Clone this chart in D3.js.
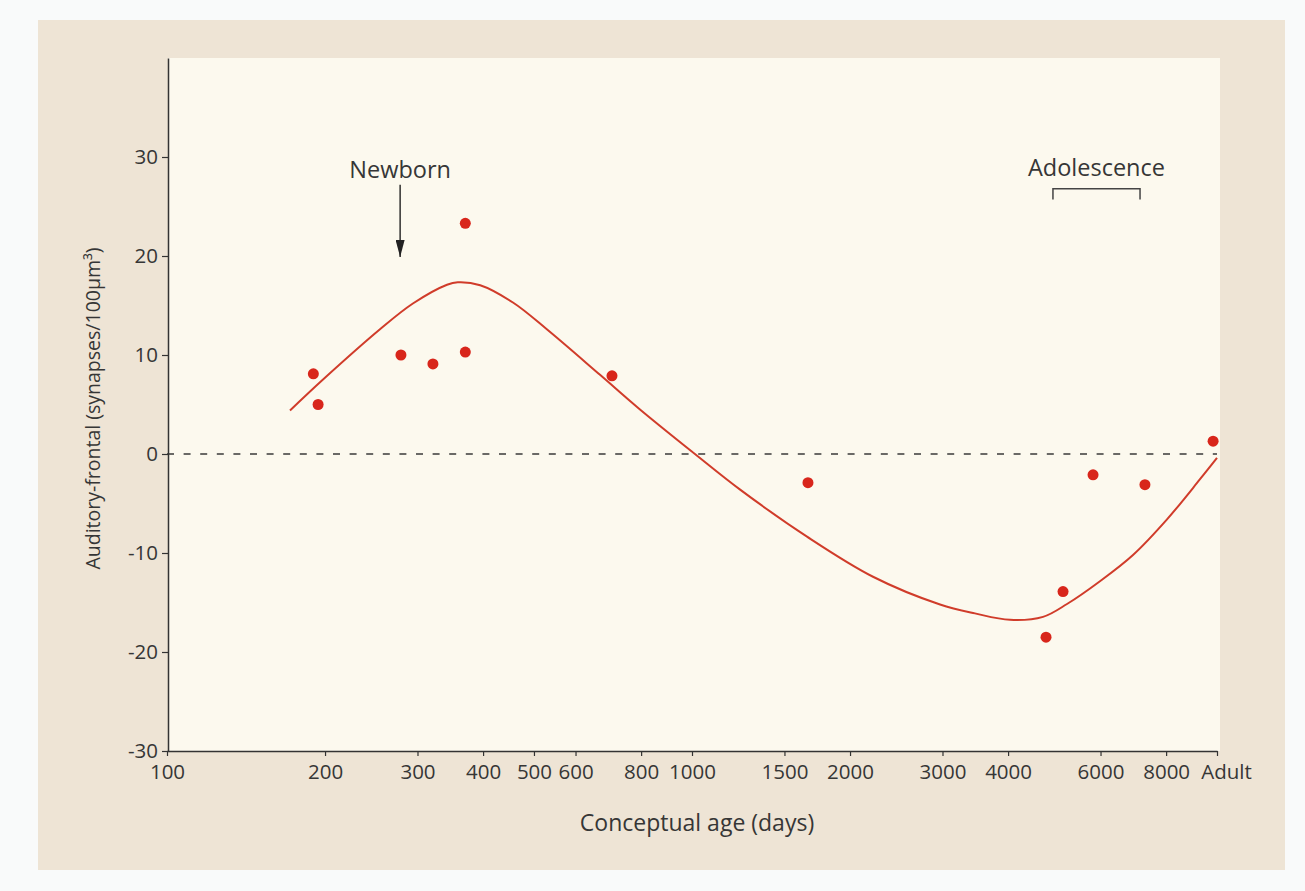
<!DOCTYPE html>
<html>
<head>
<meta charset="utf-8">
<script src="https://cdn.jsdelivr.net/npm/d3@7/dist/d3.min.js"></script>
<style>
  html, body { margin: 0; padding: 0; background: #f9fafa; }
  svg { display: block; }
  text { font-family: "Open Sans", "Noto Sans", sans-serif; fill: #363636; }
</style>
</head>
<body>
<svg id="chart" width="1305" height="891"></svg>
<script>
// ---- Data ----
const ageDays     = [190, 194, 279, 321, 370, 370, 704, 1663, 4724, 5090, 5806, 7290, 9830];
const synapseDiff = [8.1, 5.0, 10.0, 9.1, 23.3, 10.3, 7.9, -2.9, -18.5, -13.9, -2.1, -3.1, 1.3];

const fitAge   = [171.5, 198, 254.5, 294, 341.5, 358, 395, 456, 529, 668, 796, 1013, 1235, 1656, 2212, 2968, 3459, 4034, 4662, 5180, 5985, 6918, 8031, 9282, 10000];
const fitValue = [4.4, 7.5, 12.6, 15.2, 17.1, 17.35, 17.05, 15.3, 12.6, 8.0, 4.5, 0, -3.6, -8.35, -12.4, -15.2, -16.1, -16.75, -16.45, -15.15, -12.85, -10.2, -6.6, -2.55, -0.4];

const xTickValues = [100, 200, 300, 400, 500, 600, 800, 1000, 1500, 2000, 3000, 4000, 6000, 8000, 10000];
const xTickLabels = ["100", "200", "300", "400", "500", "600", "800", "1000", "1500", "2000", "3000", "4000", "6000", "8000", "Adult"];
const yTickValues = [-30, -20, -10, 0, 10, 20, 30];

const xDomain = [100, 10000];
const yDomain = [-30, 40];

const newbornAge = 278;
const newbornArrow = [27.2, 19.9];
const adolescenceRange = [4870, 7135];
const adolescenceTop = 26.8, adolescenceFoot = 25.7;
const labelLevel = 27.9;

// ---- Layout ----
const svg = d3.select("#chart");
const W = 1305, H = 891;
const plot = { left: 167, right: 1217, top: 58, bottom: 751 };
const FONT = '"Open Sans", "Noto Sans", sans-serif';

svg.append("rect").attr("x", 0).attr("y", 0).attr("width", W).attr("height", H).attr("fill", "#f9fafa");
svg.append("rect").attr("x", 38).attr("y", 20).attr("width", 1247).attr("height", 850).attr("fill", "#eee4d5");

const x = d3.scaleLog().domain(xDomain).range([plot.left, plot.right]);
const y = d3.scaleLinear().domain(yDomain).range([plot.bottom, plot.top]);

svg.append("rect")
  .attr("x", x(xDomain[0]) + 1).attr("y", y(yDomain[1]))
  .attr("width", x(xDomain[1]) - x(xDomain[0]) + 2)
  .attr("height", y(yDomain[0]) - y(yDomain[1]))
  .attr("fill", "#fcf9ee");

// zero reference line
svg.append("line")
  .attr("x1", x(xDomain[0])).attr("x2", x(xDomain[1]))
  .attr("y1", y(0)).attr("y2", y(0))
  .attr("stroke", "#3a3a3a").attr("stroke-width", 1.6)
  .attr("stroke-dasharray", "7,9.6");

// axes
const xAxis = d3.axisBottom(x)
  .tickValues(xTickValues)
  .tickFormat((d, i) => xTickLabels[i])
  .tickSizeInner(5).tickSizeOuter(0).tickPadding(8);
const gx = svg.append("g").attr("transform", `translate(0,${plot.bottom})`).call(xAxis);

const yAxis = d3.axisLeft(y)
  .tickValues(yTickValues)
  .tickFormat(d => String(d))
  .tickSizeInner(6).tickSizeOuter(0).tickPadding(4);
const gy = svg.append("g").attr("transform", `translate(${plot.left + 1},0)`).call(yAxis);

[gx, gy].forEach(g => {
  g.select(".domain").attr("stroke", "#333").attr("stroke-width", 1.5);
  g.selectAll(".tick line").attr("stroke", "#333").attr("stroke-width", 1.2);
  g.selectAll(".tick text").attr("font-size", 20.5).attr("fill", "#363636")
    .attr("font-family", FONT);
});
gx.selectAll(".tick text").filter((d) => d === 10000).attr("dx", 9);

// axis titles
svg.append("text")
  .attr("x", (plot.left + plot.right) / 2 + 5).attr("y", 831)
  .attr("text-anchor", "middle").attr("font-size", 23)
  .text("Conceptual age (days)");

svg.append("text")
  .attr("transform", `translate(100,${(plot.top + plot.bottom) / 2 + 4}) rotate(-90)`)
  .attr("text-anchor", "middle").attr("font-size", 19.5)
  .text("Auditory-frontal (synapses/100µm³)");

// fitted curve
const line = d3.line()
  .x((d, i) => x(fitAge[i]))
  .y((d, i) => y(fitValue[i]))
  .curve(d3.curveCatmullRom.alpha(0.5));
svg.append("path")
  .datum(fitAge)
  .attr("d", line)
  .attr("fill", "none")
  .attr("stroke", "#d03c2a")
  .attr("stroke-width", 2);

// data points
svg.append("g").selectAll("circle")
  .data(ageDays)
  .join("circle")
  .attr("cx", d => x(d))
  .attr("cy", (d, i) => y(synapseDiff[i]))
  .attr("r", 5.5)
  .attr("fill", "#d8261b");

// Newborn annotation
svg.append("defs").append("marker")
  .attr("id", "arrow").attr("viewBox", "0 0 17 9")
  .attr("refX", 17).attr("refY", 4.5)
  .attr("markerWidth", 17).attr("markerHeight", 9)
  .attr("markerUnits", "userSpaceOnUse")
  .attr("orient", "auto")
  .append("path").attr("d", "M0,0 L17,4.5 L0,9 Z").attr("fill", "#222");

svg.append("text")
  .attr("x", x(newbornAge)).attr("y", y(labelLevel))
  .attr("text-anchor", "middle").attr("font-size", 23.5)
  .text("Newborn");
svg.append("line")
  .attr("x1", x(newbornAge)).attr("x2", x(newbornAge))
  .attr("y1", y(newbornArrow[0])).attr("y2", y(newbornArrow[1]))
  .attr("stroke", "#222").attr("stroke-width", 1.4)
  .attr("marker-end", "url(#arrow)");

// Adolescence annotation
svg.append("text")
  .attr("x", x(Math.sqrt(adolescenceRange[0] * adolescenceRange[1]))).attr("y", y(labelLevel + 0.2))
  .attr("text-anchor", "middle").attr("font-size", 23.5)
  .text("Adolescence");
svg.append("path")
  .attr("d", `M${x(adolescenceRange[0])},${y(adolescenceFoot)} V${y(adolescenceTop)} H${x(adolescenceRange[1])} V${y(adolescenceFoot)}`)
  .attr("fill", "none").attr("stroke", "#444").attr("stroke-width", 1.5);
</script>
</body>
</html>
